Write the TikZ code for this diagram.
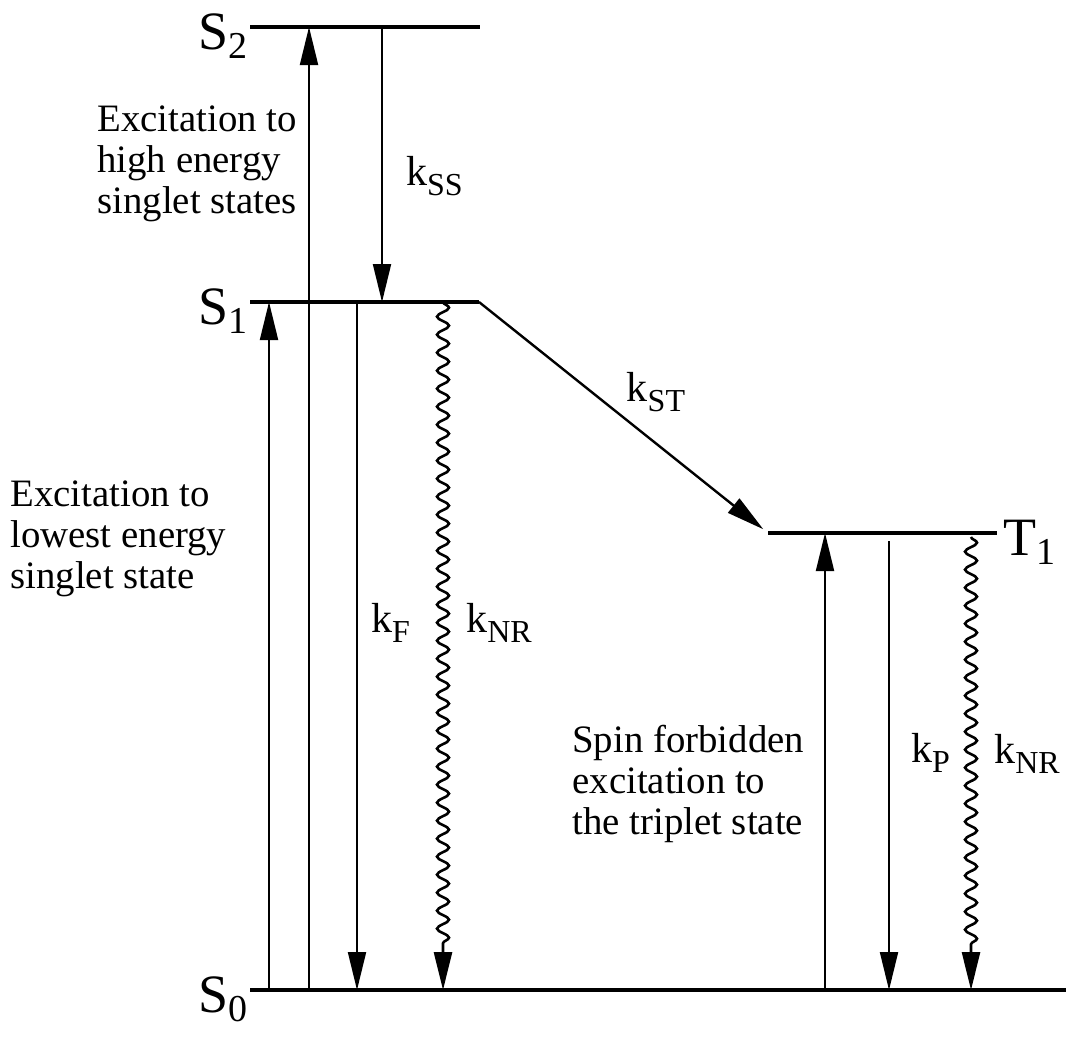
\documentclass[tikz,border=0pt]{standalone}
\usepackage{fontspec}
\setmainfont{Liberation Serif}
\usetikzlibrary{arrows.meta, decorations.pathmorphing, positioning, calc}

\newcommand{\lvlname}[2]{{\fontsize{27}{27}\selectfont #1\raisebox{-4.5pt}{\fontsize{19}{19}\selectfont #2}}}
\newcommand{\krate}[1]{{\fontsize{21}{21}\selectfont k\raisebox{-5pt}{\fontsize{16}{16}\selectfont #1}}}

\begin{document}
\begin{tikzpicture}[
  x=0.5pt, y=-0.5pt,
  level/.style={line width=1.6pt},
  arr/.style={-{Triangle[length=19pt,width=9pt]}, line width=1pt},
  wavy/.style={arr, line width=1.3pt, decorate,
               decoration={snake, amplitude=3pt, segment length=9pt, post length=20pt}},
  rate/.style={inner sep=0pt, anchor=base west},
  lvl/.style={inner sep=0pt},
  note/.style={font=\fontsize{19.4}{20.5}\selectfont, align=left, inner sep=0pt,
               anchor=base west},
]
\useasboundingbox (0,0) rectangle (1068,1046);

% energy levels
\coordinate (S2w) at (250,27);  \coordinate (S2e) at (480,27);
\coordinate (S1w) at (250,302); \coordinate (S1e) at (479,302);
\coordinate (T1w) at (768,533); \coordinate (T1e) at (997,533);
\coordinate (S0w) at (250,990); \coordinate (S0e) at (1066,990);

\foreach \lv in {S0,S1,S2,T1}
  \draw[level] (\lv w) -- (\lv e);

\node[lvl, anchor=base east] (S2lab) at ([xshift=-1pt,yshift=-11pt]S2w) {\lvlname{S}{2}};
\node[lvl, anchor=base east] (S1lab) at ([xshift=-1pt,yshift=-11pt]S1w) {\lvlname{S}{1}};
\node[lvl, anchor=base east] (S0lab) at ([xshift=-1pt,yshift=-11pt]S0w) {\lvlname{S}{0}};
\node[lvl, anchor=base west] (T1lab) at ([xshift=3pt,yshift=-11pt]T1e) {\lvlname{T}{1}};

% columns of the transitions
\coordinate (exS1) at (269,0);
\coordinate (exS2) at (309,0);
\coordinate (kss)  at (382,0);
\coordinate (kf)   at (357,0);
\coordinate (knrS) at (443,0);
\coordinate (exT)  at (825,0);
\coordinate (kp)   at (889,541);
\coordinate (knrT) at (971,537);

% singlet manifold
\draw[arr] (exS1 |- S0w) -- (exS1 |- S1w);
\draw[arr] (exS2 |- S0w) -- (exS2 |- S2w);
\draw[arr] (kss |- S2w) -- node[rate, pos=0.575, xshift=11.5pt] (kSSlab) {\krate{SS}} (kss |- S1w);
\draw[arr] (kf |- S1w) -- node[rate, pos=0.48, xshift=6.5pt] (kFlab) {\krate{F}} (kf |- S0w);
\draw[wavy] (knrS |- S1w) -- node[rate, pos=0.48, xshift=11pt] (kNRSlab) {\krate{NR}} (knrS |- S0w);

% intersystem crossing
\draw[arr, line width=1.2pt, shorten >=3pt] (S1e) --
     node[rate, pos=0.5, xshift=1pt, yshift=8pt] (kSTlab) {\krate{ST}} (T1w);

% triplet
\draw[arr] (exT |- S0w) -- (exT |- T1w);
\draw[arr] (kp) -- node[rate, pos=0.494, xshift=10.5pt] (kPlab) {\krate{P}} (kp |- S0w);
\draw[wavy] (knrT) -- node[rate, pos=0.499, xshift=11pt] (kNRTlab) {\krate{NR}} (knrT |- S0w);

% base anchor of a multi-line node is its last line
\node[note] (hiex) at (97,213)  {Excitation to\\high energy\\singlet states};
\node[note] (loex) at (10,588)  {Excitation to\\lowest energy\\singlet state};
\node[note] (spex) at (572,834) {Spin forbidden\\excitation to\\the triplet state};
\end{tikzpicture}
\end{document}
